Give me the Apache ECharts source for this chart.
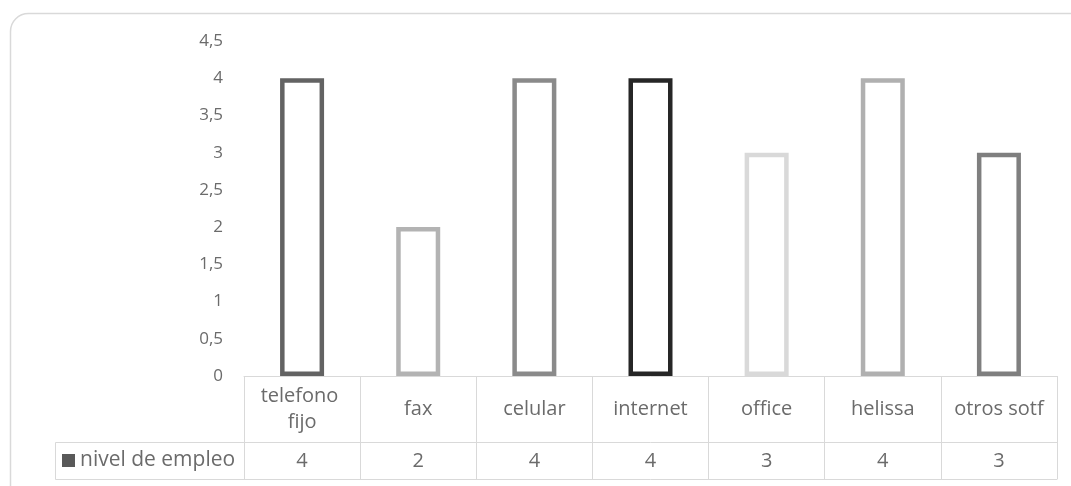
<!DOCTYPE html>
<html>
<head>
<meta charset="utf-8">
<style>
  html, body { margin: 0; padding: 0; background: #ffffff; }
  #chart { width: 1071px; height: 486px; }
</style>
<script src="https://cdn.jsdelivr.net/npm/echarts@6/dist/echarts.min.js"></script>
</head>
<body>
<div id="chart"></div>
<script>
// Data
const categories = ['telefono fijo', 'fax', 'celular', 'internet', 'office', 'helissa', 'otros sotf'];
const nivelDeEmpleo = [4, 2, 4, 4, 3, 4, 3];
const seriesName = 'nivel de empleo';
const yTicks = [0, 0.5, 1, 1.5, 2, 2.5, 3, 3.5, 4, 4.5];

// Styling
const outlineColors = ['#636363', '#b3b3b3', '#8a8a8a', '#262626', '#d9d9d9', '#b0b0b0', '#7f7f7f'];
const textColor = '#6b6b6b';
const gridLine = '#d9d9d9';
const font = '"Open Sans", "Noto Sans", sans-serif';
const axisFont = 17;
const tableFont = 20;

const chart = echarts.init(document.getElementById('chart'), null, { renderer: 'canvas' });

const GRID = { left: 244, right: 14, top: 41, bottom: 110 };
const ROW1 = 66, ROW2 = 37;

const option = {
  animation: false,
  backgroundColor: '#ffffff',
  textStyle: { fontFamily: font },
  grid: GRID,
  legend: {
    left: 62,
    top: 376 + ROW1 + 8,
    padding: 0,
    itemWidth: 13,
    itemHeight: 13,
    itemGap: 0,
    icon: 'rect',
    selectedMode: false,
    textStyle: { color: textColor, fontSize: 21, fontFamily: font },
    data: [{ name: seriesName, itemStyle: { color: '#595959', borderWidth: 0 } }]
  },
  xAxis: [
    {
      type: 'category',
      data: categories,
      position: 'bottom',
      axisLine: { show: true, lineStyle: { color: gridLine, width: 1 } },
      axisTick: { show: true, length: ROW1, interval: 0, lineStyle: { color: gridLine, width: 1 } },
      axisLabel: {
        interval: 0,
        color: textColor,
        fontSize: tableFont,
        fontFamily: font,
        verticalAlign: 'middle',
        margin: ROW1 / 2,
        width: 104,
        overflow: 'break',
        lineHeight: 26
      },
      splitLine: { show: false }
    },
    {
      type: 'category',
      data: nivelDeEmpleo.map(String),
      position: 'bottom',
      offset: ROW1,
      axisLine: { show: true, lineStyle: { color: gridLine, width: 1 } },
      axisTick: { show: true, length: ROW2, interval: 0, lineStyle: { color: gridLine, width: 1 } },
      axisLabel: {
        interval: 0,
        color: textColor,
        fontSize: tableFont,
        fontFamily: font,
        verticalAlign: 'middle',
        margin: ROW2 / 2 + 1
      },
      splitLine: { show: false }
    },
    {
      type: 'category',
      data: categories,
      position: 'bottom',
      offset: ROW1 + ROW2,
      axisLine: { show: true, lineStyle: { color: gridLine, width: 1 } },
      axisTick: { show: false },
      axisLabel: { show: false },
      splitLine: { show: false }
    }
  ],
  yAxis: {
    type: 'value',
    min: yTicks[0],
    max: yTicks[yTicks.length - 1],
    interval: 0.5,
    axisLine: { show: false },
    axisTick: { show: false },
    splitLine: { show: false },
    axisLabel: {
      color: textColor,
      fontSize: axisFont,
      fontFamily: font,
      margin: 21,
      formatter: v => String(v).replace('.', ',')
    }
  },
  series: [
    {
      name: seriesName,
      type: 'bar',
      xAxisIndex: 0,
      barWidth: 44,
      itemStyle: { color: '#595959' },
      data: nivelDeEmpleo.map((v, i) => ({
        value: v,
        itemStyle: { color: '#ffffff', borderColor: outlineColors[i], borderWidth: 4.5 }
      }))
    }
  ],
  graphic: [
    {
      // chart area frame
      type: 'rect',
      silent: true,
      z: -1,
      shape: { x: 10.5, y: 13.5, width: 1080, height: 500, r: 18 },
      style: { fill: 'none', stroke: '#d9d9d9', lineWidth: 1.5 }
    },
    {
      // legend key cell of the data table
      type: 'rect',
      silent: true,
      shape: { x: 55.5, y: 376.5 + ROW1, width: 244 - 55, height: ROW2 },
      style: { fill: 'none', stroke: gridLine, lineWidth: 1 }
    }
  ]
};

chart.setOption(option);
</script>
</body>
</html>
